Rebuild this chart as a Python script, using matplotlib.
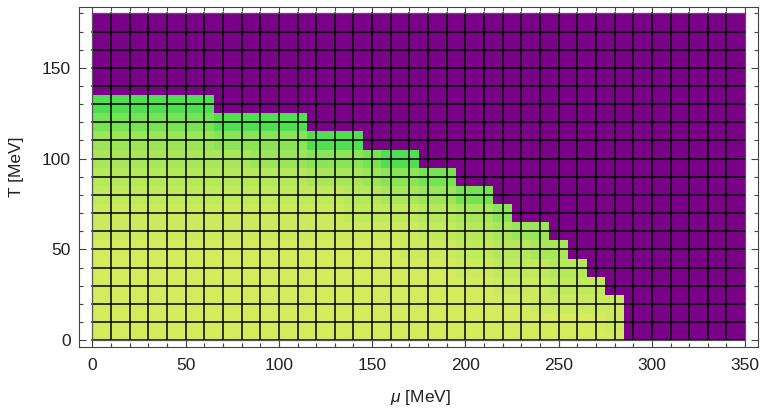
import numpy as np
import matplotlib.pyplot as plt
from matplotlib.colors import ListedColormap

plt.rcParams['font.family'] = ['Liberation Sans', 'DejaVu Sans']
plt.rcParams['mathtext.fontset'] = 'custom'
plt.rcParams['mathtext.it'] = 'Liberation Sans:italic'
plt.rcParams['mathtext.rm'] = 'Liberation Sans'

# grid of the scan
mu = np.arange(0, 351, 10)   # MeV
T = np.arange(0, 181, 10)    # MeV

# condensate level per cell
# 0 = restored phase (purple), 1 = just below transition (green) ... 9 = vacuum-like (yellow-green)
# rows from T=180 (top) down to T=0, columns mu=0..350
levels_rows = [
    "000000000000000000000000000000000000",  # 180
    "000000000000000000000000000000000000",  # 170
    "000000000000000000000000000000000000",  # 160
    "000000000000000000000000000000000000",  # 150
    "000000000000000000000000000000000000",  # 140
    "111111100000000000000000000000000000",  # 130
    "222222211111000000000000000000000000",  # 120
    "444444433333111000000000000000000000",  # 110
    "555555555444333211000000000000000000",  # 100
    "666666666666555433220000000000000000",  # 90
    "777777777777776655442200000000000000",  # 80
    "888888888888887777665530000000000000",  # 70
    "888888888888888888776654400000000000",  # 60
    "999999999999999998887766550000000000",  # 50
    "999999999999999999998877766000000000",  # 40
    "999999999999999999999988877700000000",  # 30
    "999999999999999999999999888880000000",  # 20
    "999999999999999999999999999980000000",  # 10
    "999999999999999999999999999990000000",  # 0
]
levels = np.array([[int(c) for c in r] for r in levels_rows[::-1]])

purple = '#7a0088'
green = np.array([82, 222, 82]) / 255
yellow = np.array([213, 235, 94]) / 255
cols = [purple] + [tuple(green + (yellow - green) * (k / 8) ** 0.6) for k in range(9)]
cmap = ListedColormap(cols)


def cell_edges(v):
    return np.concatenate([[v[0]], (v[:-1] + v[1:]) / 2, [v[-1]]])


fig = plt.figure(figsize=(7.62, 4.11), dpi=100)
ax = fig.add_axes([79.3 / 762, 1 - 346.8 / 411, 678.9 / 762, 340 / 411])

ax.pcolormesh(cell_edges(mu), cell_edges(T), levels, cmap=cmap,
              vmin=-0.5, vmax=9.5, shading='flat')

# mesh lines
for m in mu[1:-1]:
    ax.plot([m, m], [T[0], T[-1]], color='black', lw=1.1, zorder=3)
for t in T[:-1]:
    ax.plot([mu[0], mu[-1]], [t, t], color='black', lw=1.1, zorder=3)
ax.plot([mu[0], mu[-1], mu[-1], mu[0], mu[0]], [T[0], T[0], T[-1], T[-1], T[0]],
        color='#555555', lw=0.9, zorder=3)

ax.set_xlim(-7, 357)
ax.set_ylim(-3.6, 183.6)

ax.set_xticks(np.arange(0, 351, 50))
ax.set_xticks(np.arange(0, 351, 10), minor=True)
ax.set_yticks(np.arange(0, 151, 50))
ax.set_yticks(np.arange(0, 181, 10), minor=True)
ax.tick_params(which='both', direction='in', top=True, right=True,
               color='#444444', width=0.8, labelsize=12.5, labelcolor='#222222')
ax.tick_params(which='major', length=5)
ax.tick_params(which='minor', length=3)
ax.tick_params(axis='x', pad=8)
ax.tick_params(axis='y', pad=6)
for s in ax.spines.values():
    s.set_color('#444444')
    s.set_linewidth(0.8)

fig.text(17 / 762, 1 - 167 / 411, 'T [MeV]', rotation=90, ha='center',
         va='center', fontsize=12.5, color='#222222')
fig.text(420 / 762, 1 - 397 / 411, r'$\mu$ [MeV]', ha='center',
         va='center', fontsize=12.5, color='#222222')

fig.savefig('out.png', dpi=100)
